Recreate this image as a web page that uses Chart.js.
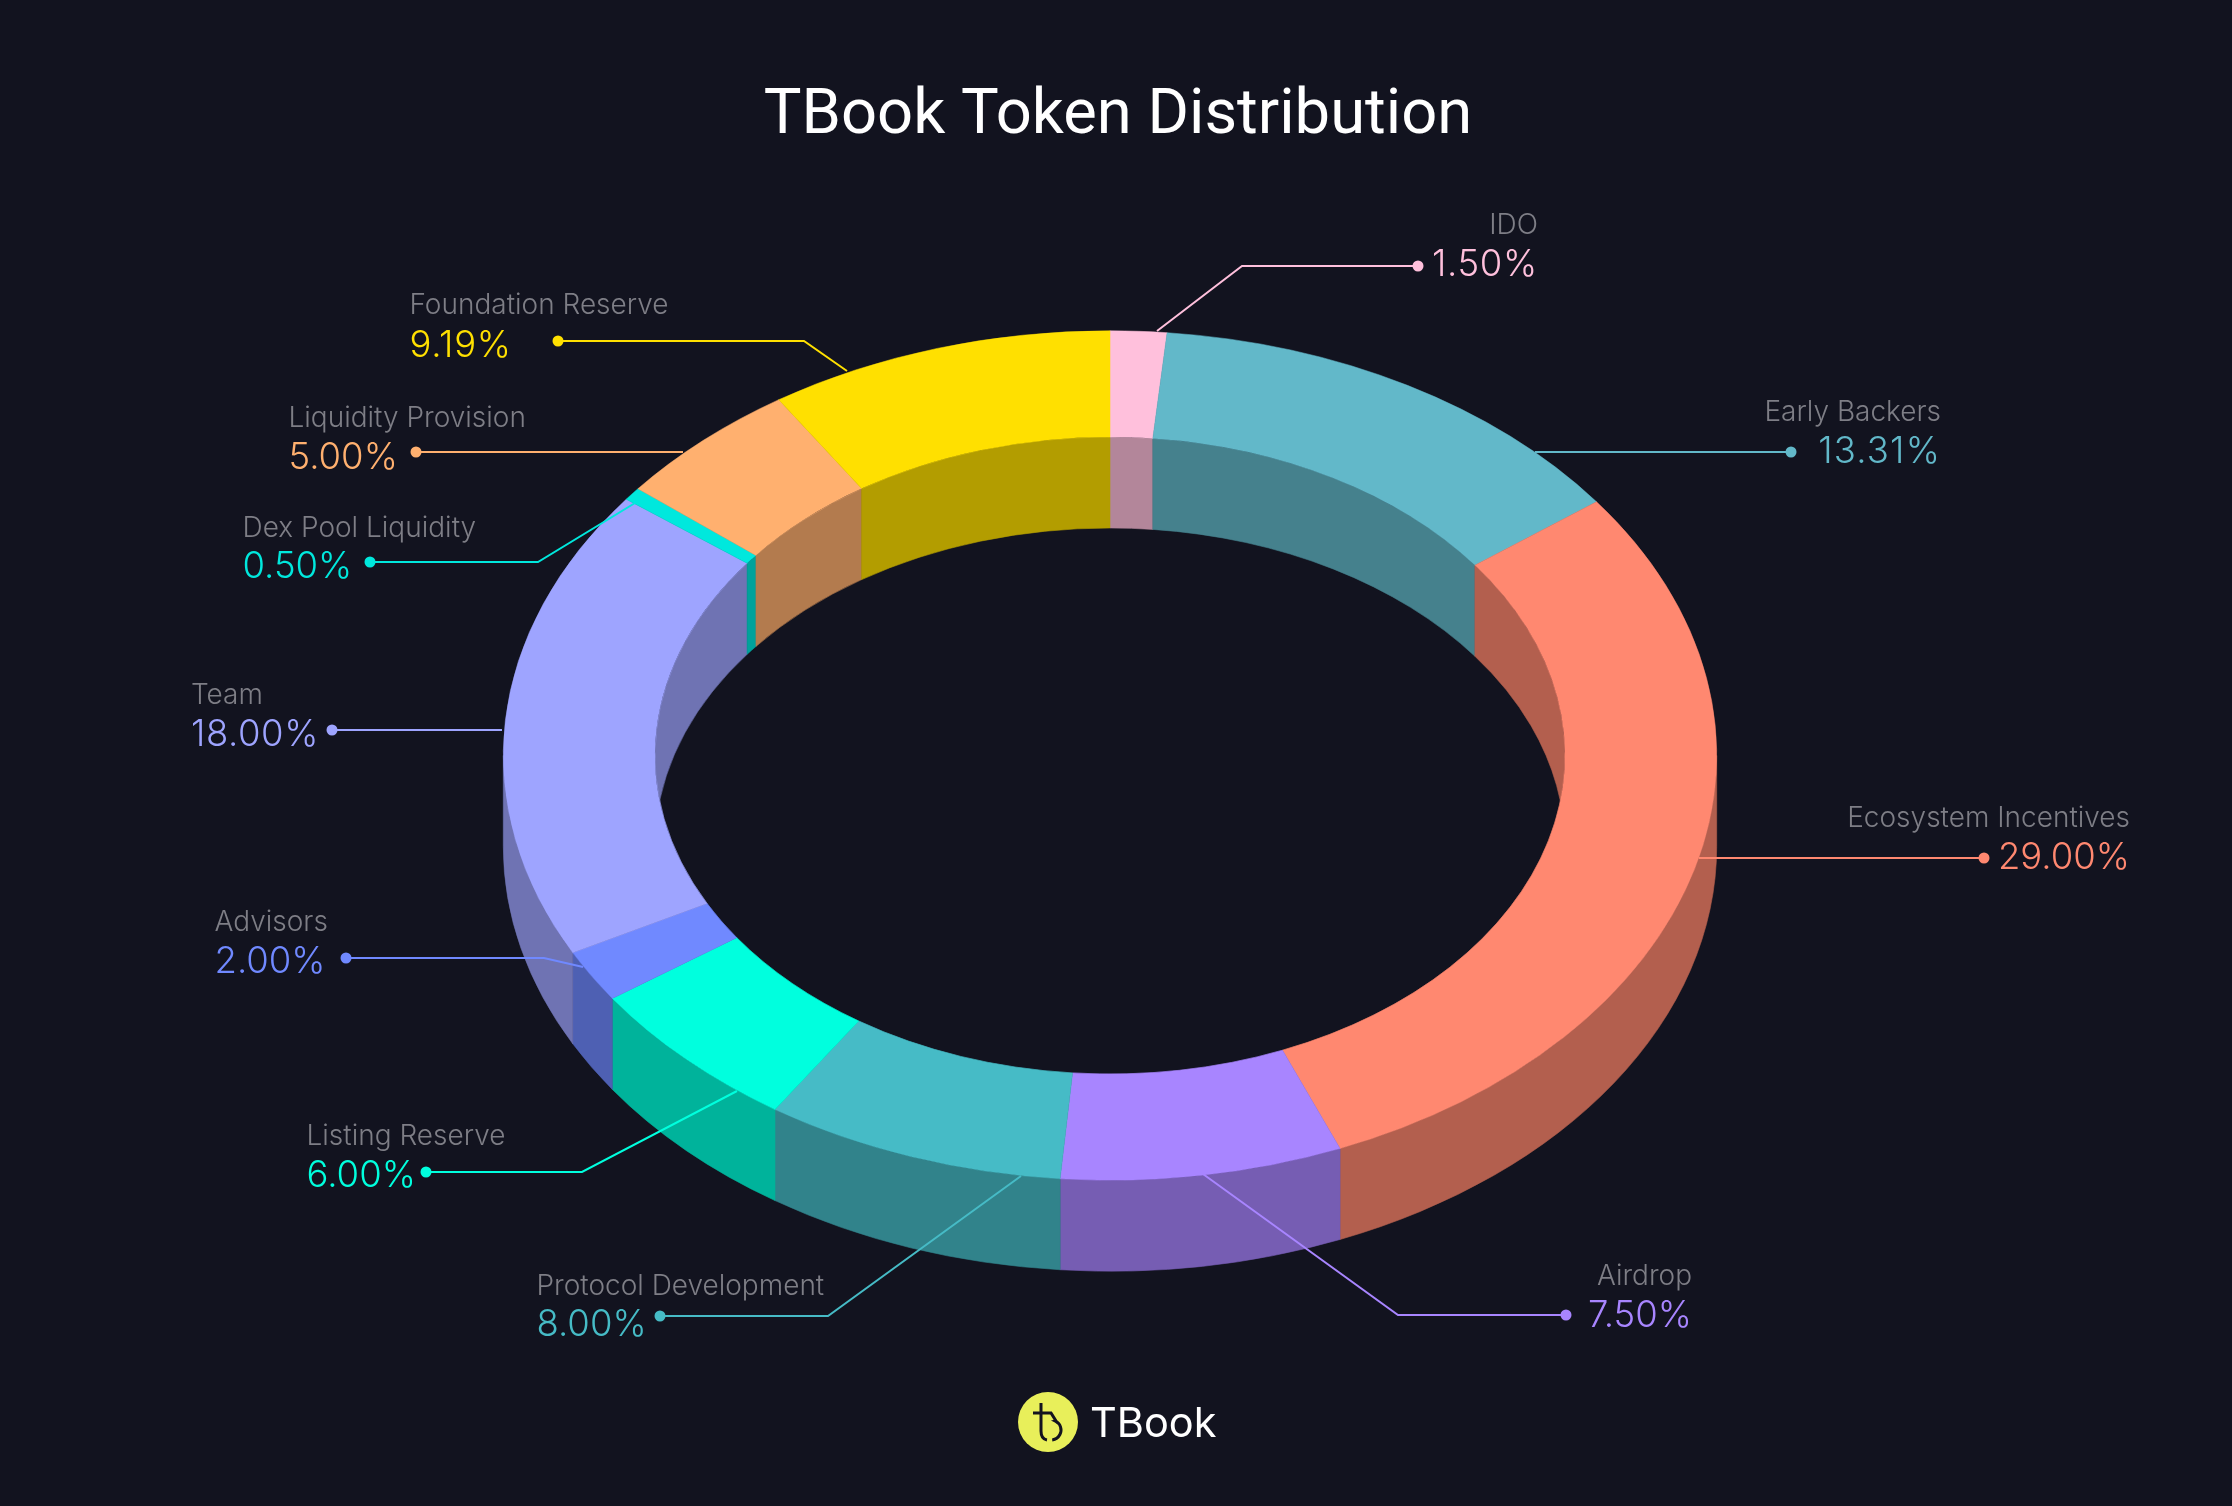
<!DOCTYPE html>
<html>
<head>
<meta charset="utf-8">
<title>TBook Token Distribution</title>
<style>
    html, body { margin: 0; padding: 0; background: #12131f; }
    canvas { display: block; }
</style>
<script src="https://cdn.jsdelivr.net/npm/chart.js@4"></script>
</head>
<body>
<canvas id="token-chart" width="2232" height="1506"></canvas>
<script>
var categories = ["IDO", "Early Backers", "Ecosystem Incentives", "Airdrop", "Protocol Development",
    "Listing Reserve", "Advisors", "Team", "Dex Pool Liquidity", "Liquidity Provision", "Foundation Reserve"];
var shares = [1.5, 13.31, 29, 7.5, 8, 6, 2, 18, 0.5, 5, 9.19];
var sliceColors = ["#ffc0dc", "#62b8c9", "#ff8870", "#a885ff", "#46bbc6",
    "#00ffde", "#7089ff", "#9ea4ff", "#00e8dd", "#ffb06f", "#ffe000"];

// leader lines and text blocks, same order as categories
var callouts = [
    { dot: [1418, 266], elbow: [1242, 266], end: [1157, 331], x: 1538, align: "right", nameY: 234, valueY: 276 },
    { dot: [1791, 452], elbow: null, end: [1535, 452], x: 1941, align: "right", nameY: 421, valueY: 463 },
    { dot: [1984, 858], elbow: null, end: [1699, 858], x: 2130, align: "right", nameY: 827, valueY: 869 },
    { dot: [1566, 1315], elbow: [1398, 1315], end: [1203, 1174], x: 1692, align: "right", nameY: 1285, valueY: 1327 },
    { dot: [660, 1316], elbow: [828, 1316], end: [1021, 1176], x: 536.5, align: "left", nameY: 1295, valueY: 1336 },
    { dot: [426, 1172], elbow: [582, 1172], end: [737, 1091], x: 306.5, align: "left", nameY: 1145, valueY: 1187 },
    { dot: [346, 958], elbow: [544, 958], end: [583, 967], x: 214.5, align: "left", nameY: 931, valueY: 973 },
    { dot: [332, 730], elbow: null, end: [502, 730], x: 191, align: "left", nameY: 704, valueY: 746 },
    { dot: [370, 562], elbow: [538, 562], end: [635, 503], x: 242.5, align: "left", nameY: 537, valueY: 578 },
    { dot: [416, 452], elbow: null, end: [683, 452], x: 288.5, align: "left", nameY: 427, valueY: 469 },
    { dot: [558, 341], elbow: [804, 341], end: [847, 371], x: 409.5, align: "left", nameY: 314, valueY: 357 },
];

var SQUASH = 0.7;
var DEPTH = 91;
var FONT = "Inter, 'Noto Sans', sans-serif";

// wall colour: slice colour at 70% brightness
function wallColor(hex) {
    var n = parseInt(hex.slice(1), 16);
    var rgb = [(n >> 16) & 255, (n >> 8) & 255, n & 255];
    return "rgb(" + rgb.map(function (c) { return Math.round(c * 0.7); }).join(",") + ")";
}

function wallPath(ctx, cx, cy, r, a, b) {
    var ry = r * SQUASH;
    ctx.beginPath();
    ctx.ellipse(cx, cy, r, ry, 0, a, b);
    ctx.ellipse(cx, cy + DEPTH, r, ry, 0, b, a, true);
    ctx.closePath();
}

var ringPlugin = {
    id: "ring",
    beforeDatasetsDraw: function (chart) {
        var ctx = chart.ctx;
        var arcs = chart.getDatasetMeta(0).data;
        var first = arcs[0];
        var cx = first.x, cy = first.y;

        ctx.save();
        // outer wall, only the front half shows
        arcs.forEach(function (arc, i) {
            var a = Math.max(arc.startAngle, 0);
            var b = Math.min(arc.endAngle, Math.PI);
            if (b <= a) return;
            wallPath(ctx, cx, cy, arc.outerRadius, a, b);
            ctx.fillStyle = ctx.strokeStyle = wallColor(sliceColors[i]);
            ctx.lineWidth = 0.6;
            ctx.fill();
            ctx.stroke();
        });

        // inner wall, seen through the hole
        ctx.beginPath();
        ctx.ellipse(cx, cy, first.innerRadius, first.innerRadius * SQUASH, 0, 0, Math.PI * 2);
        ctx.clip();
        arcs.forEach(function (arc, i) {
            wallPath(ctx, cx, cy, arc.innerRadius, arc.startAngle, arc.endAngle);
            ctx.fillStyle = ctx.strokeStyle = wallColor(sliceColors[i]);
            ctx.lineWidth = 0.6;
            ctx.fill();
            ctx.stroke();
        });
        ctx.restore();

        // top face: the library draws the arcs, squashed into an ellipse
        ctx.save();
        ctx.translate(cx, cy);
        ctx.scale(1, SQUASH);
        ctx.translate(-cx, -cy);
    },
    afterDatasetsDraw: function (chart) {
        var ctx = chart.ctx;
        ctx.restore();

        callouts.forEach(function (c, i) {
            var color = sliceColors[i];
            ctx.strokeStyle = ctx.fillStyle = color;
            ctx.lineWidth = 2;
            ctx.beginPath();
            ctx.moveTo(c.dot[0], c.dot[1]);
            if (c.elbow) ctx.lineTo(c.elbow[0], c.elbow[1]);
            ctx.lineTo(c.end[0], c.end[1]);
            ctx.stroke();
            ctx.beginPath();
            ctx.arc(c.dot[0], c.dot[1], 5.5, 0, Math.PI * 2);
            ctx.fill();

            ctx.textAlign = c.align;
            ctx.textBaseline = "alphabetic";
            ctx.font = "300 36.5px " + FONT;
            // the reference digits are tabular, the 1 here is narrower
            var value = shares[i].toFixed(2) + "%";
            var ones = value.split("1").length - 1;
            ctx.letterSpacing = (ones * 3.5 / value.length) + "px";
            ctx.fillText(value, c.x, c.valueY);
            ctx.letterSpacing = "0px";
            ctx.fillStyle = "#7e7e86";
            ctx.font = "300 28px " + FONT;
            ctx.fillText(categories[i], c.x, c.nameY);
        });

        // title
        ctx.fillStyle = "#ffffff";
        ctx.textAlign = "center";
        ctx.font = "400 63.3px Roboto, " + FONT;
        ctx.fillText("TBook Token Distribution", 1118, 133);

        // footer logo
        ctx.fillStyle = "#e8ef5a";
        ctx.beginPath();
        ctx.arc(1048, 1422, 30, 0, Math.PI * 2);
        ctx.fill();
        ctx.strokeStyle = "#12131f";
        ctx.lineWidth = 3;
        ctx.beginPath();
        ctx.moveTo(1033, 1413);
        ctx.lineTo(1051, 1413);
        ctx.lineTo(1056, 1421);
        ctx.arc(1051, 1430, 10, -1.1, 1.45);
        ctx.moveTo(1041, 1403);
        ctx.lineTo(1041, 1431);
        ctx.quadraticCurveTo(1041, 1439, 1047, 1440);
        ctx.stroke();

        ctx.fillStyle = "#ffffff";
        ctx.textAlign = "left";
        ctx.font = "400 41.5px " + FONT;
        ctx.fillText("TBook", 1090, 1437);
    },
};

var tokenChart = new Chart(document.getElementById("token-chart"), {
    type: "doughnut",
    data: {
        labels: categories,
        datasets: [{
            data: shares,
            backgroundColor: sliceColors,
            borderColor: sliceColors,
            borderWidth: 0.6,
            clip: false,
        }],
    },
    options: {
        responsive: false,
        devicePixelRatio: 1,
        animation: false,
        events: [],
        cutout: "75%",
        layout: { padding: { left: 0, right: 12, top: 148.5, bottom: 143.5 } },
        plugins: {
            legend: { display: false },
            tooltip: { enabled: false },
        },
    },
    plugins: [ringPlugin],
});
</script>
</body>
</html>
